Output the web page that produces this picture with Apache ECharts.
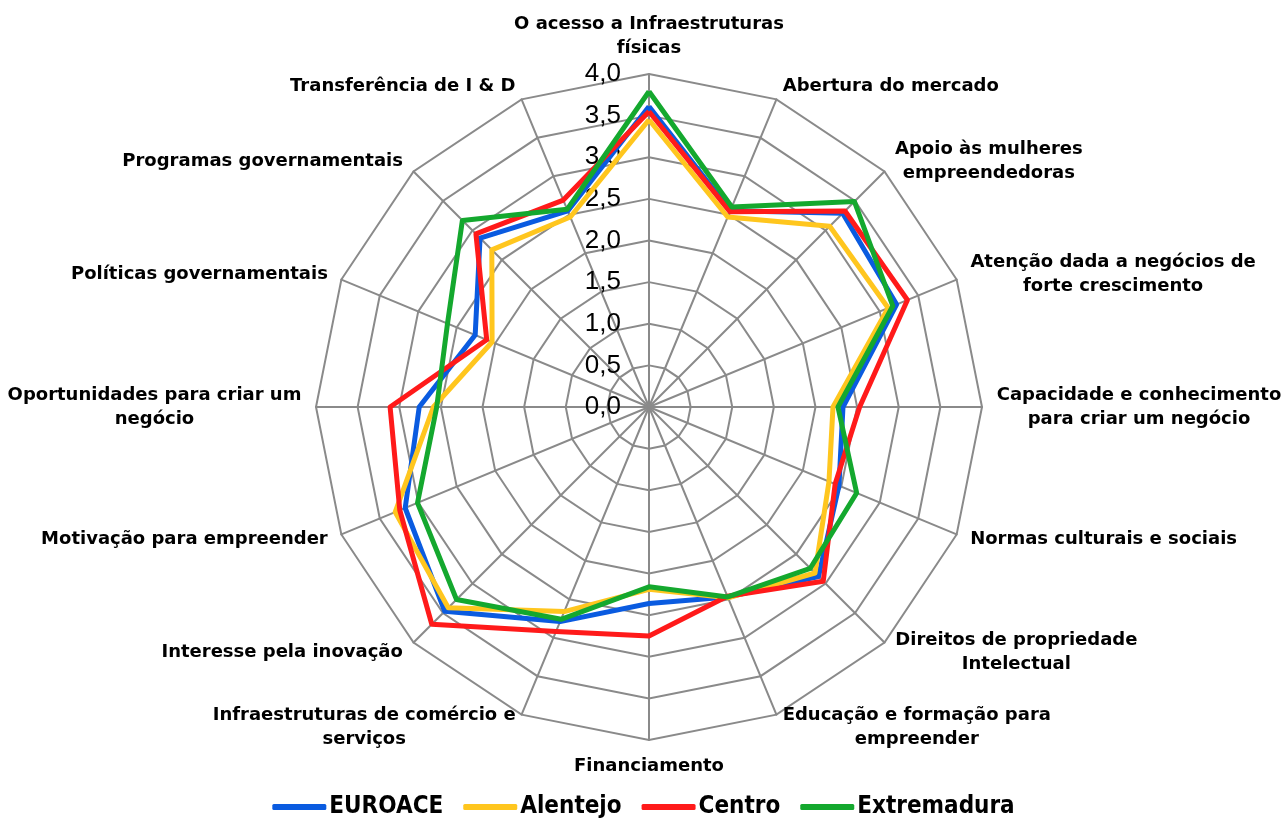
<!DOCTYPE html>
<html>
<head>
<meta charset="utf-8">
<script src="https://cdn.jsdelivr.net/npm/echarts@6/dist/echarts.min.js"></script>
<style>
  html, body { margin: 0; padding: 0; background: #fff; }
  #chart { width: 1287px; height: 819px; }
</style>
</head>
<body>
<div id="chart"></div>
<script>
// indicators, clockwise from the top
var indicatorNames = [
  'O acesso a Infraestruturas\nfísicas',
  'Abertura do mercado',
  'Apoio às mulheres\nempreendedoras',
  'Atenção dada a negócios de\nforte crescimento',
  'Capacidade e conhecimento\npara criar um negócio',
  'Normas culturais e sociais',
  'Direitos de propriedade\nIntelectual',
  'Educação e formação para\nempreender',
  'Financiamento',
  'Infraestruturas de comércio e\nserviços',
  'Interesse pela inovação',
  'Motivação para empreender',
  'Oportunidades para criar um\nnegócio',
  'Políticas governamentais',
  'Programas governamentais',
  'Transferência de I & D'
];

var seriesNames = ['EUROACE', 'Alentejo', 'Centro', 'Extremadura'];
var seriesColors = ['#0a5be0', '#ffc61e', '#ff1a1a', '#14a82e'];

var euroace     = [3.61, 2.55, 3.29, 3.22, 2.33, 2.47, 2.88, 2.47, 2.36, 2.79, 3.47, 3.17, 2.76, 2.26, 2.87, 2.55];
var alentejo    = [3.45, 2.47, 3.07, 3.11, 2.21, 2.34, 2.82, 2.48, 2.19, 2.66, 3.41, 3.30, 2.59, 2.04, 2.67, 2.47];
var centro      = [3.55, 2.54, 3.33, 3.36, 2.53, 2.42, 2.96, 2.46, 2.75, 2.92, 3.69, 3.24, 3.11, 2.11, 2.94, 2.69];
var extremadura = [3.79, 2.60, 3.49, 3.17, 2.27, 2.70, 2.74, 2.47, 2.16, 2.76, 3.27, 3.01, 2.55, 2.62, 3.17, 2.57];

var axisMin = 0, axisMax = 4, axisSplit = 8;

var nameFont = "'DejaVu Sans', sans-serif";
var nameSize = 18;

// echarts lays indicators out counter-clockwise, so flip everything after the first
function toCCW(arr) {
  return [arr[0]].concat(arr.slice(1).reverse());
}

// measure each name so its lines can be centred inside the block (like Excel does)
var ctx = document.createElement('canvas').getContext('2d');
ctx.font = 'bold ' + nameSize + 'px ' + nameFont;
var nameRich = {};
var nameKey = {};
indicatorNames.forEach(function (n, i) {
  var w = 0;
  n.split('\n').forEach(function (l) { w = Math.max(w, ctx.measureText(l).width); });
  nameRich['n' + i] = {
    width: Math.ceil(w) + 1,
    align: 'center',
    color: '#000',
    fontSize: nameSize,
    fontWeight: 'bold',
    fontFamily: nameFont,
    lineHeight: 24
  };
  nameKey[n] = 'n' + i;
});

var indicator = toCCW(indicatorNames).map(function (n, i) {
  var ind = { name: n, min: axisMin, max: axisMax };
  if (i === 0) ind.axisLabel = { show: true };
  return ind;
});

var allValues = [euroace, alentejo, centro, extremadura];

var chart = echarts.init(document.getElementById('chart'));
chart.setOption({
  animation: false,
  backgroundColor: '#fff',
  legend: {
    top: 790,
    left: 'center',
    itemWidth: 54,
    itemHeight: 6,
    itemGap: 20,
    icon: 'roundRect',
    textStyle: {
      color: '#000',
      fontSize: 24,
      fontWeight: 'bold',
      fontFamily: "'Liberation Sans Narrow', 'DejaVu Sans Condensed', sans-serif",
      padding: [0, 0, 0, -2]
    },
    data: seriesNames
  },
  radar: {
    center: [649, 407],
    radius: 333,
    shape: 'polygon',
    splitNumber: axisSplit,
    nameGap: 14,
    axisName: {
      color: '#000',
      fontSize: nameSize,
      fontWeight: 'bold',
      lineHeight: 24,
      fontFamily: nameFont,
      formatter: function (name) {
        var k = nameKey[name];
        return name.split('\n').map(function (l) { return '{' + k + '|' + l + '}'; }).join('\n');
      },
      rich: nameRich
    },
    axisLine: { lineStyle: { color: '#8a8a8a', width: 2 } },
    splitLine: { lineStyle: { color: '#8a8a8a', width: 2 } },
    splitArea: { show: false },
    axisTick: { show: false },
    axisLabel: {
      show: false,
      color: '#000',
      fontSize: 26,
      margin: 28,
      fontFamily: "'Liberation Sans', Arial, sans-serif",
      formatter: function (v) { return v.toFixed(1).replace('.', ','); }
    },
    indicator: indicator
  },
  series: seriesNames.map(function (name, k) {
    return {
      name: name,
      type: 'radar',
      symbol: 'none',
      color: seriesColors[k],
      lineStyle: { width: 5, color: seriesColors[k] },
      data: [{ name: name, value: toCCW(allValues[k]) }]
    };
  })
});
</script>
</body>
</html>
